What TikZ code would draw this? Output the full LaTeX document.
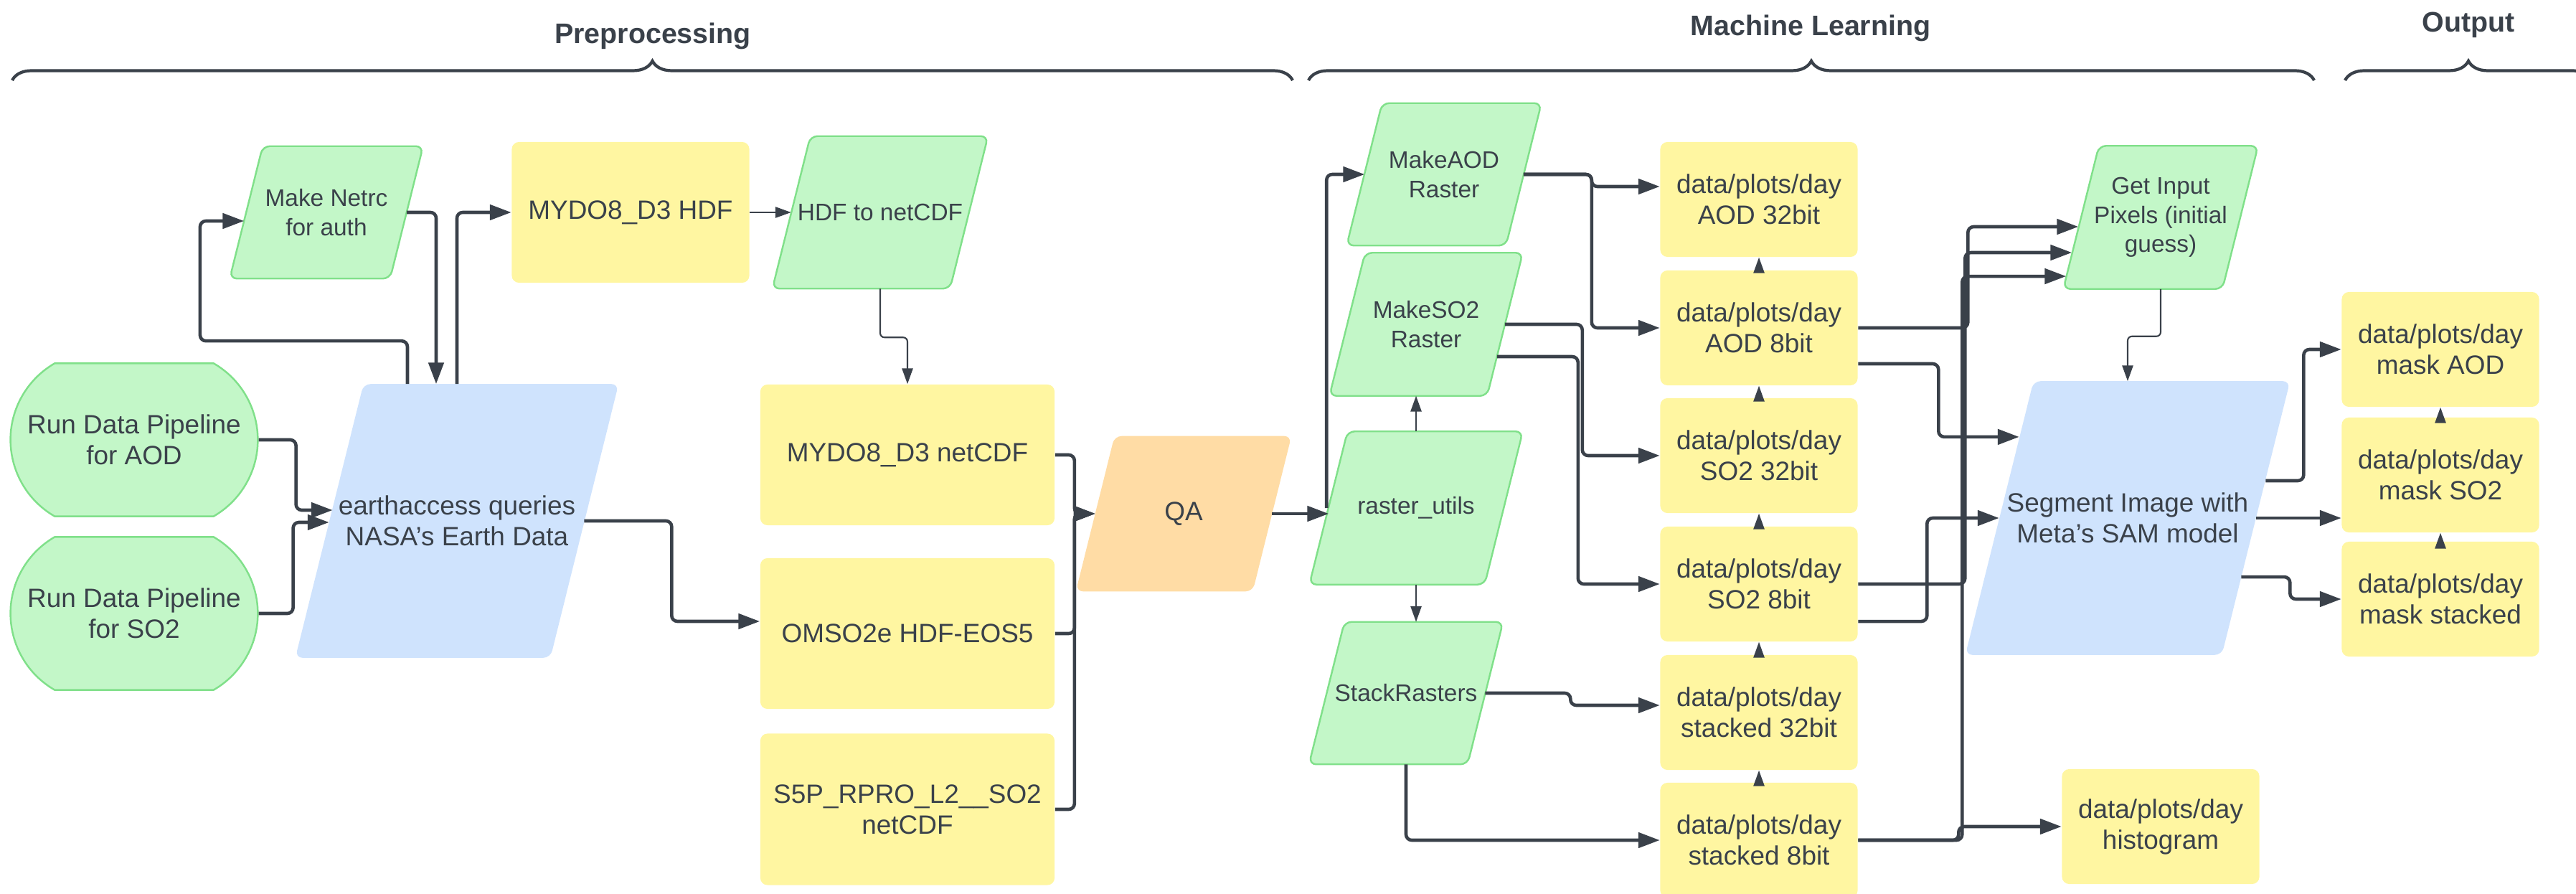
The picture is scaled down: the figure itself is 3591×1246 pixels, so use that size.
\documentclass[tikz,border=0pt]{standalone}
\usepackage{fontspec}
\setmainfont{Liberation Sans}
\usetikzlibrary{positioning,arrows.meta,calc,shapes.misc,decorations.pathreplacing,backgrounds}
\definecolor{pgreen}{HTML}{C3F7C8}
\definecolor{pgreenline}{HTML}{80E08A}
\definecolor{pyellow}{HTML}{FFF6A1}
\definecolor{pblue}{HTML}{CFE3FD}
\definecolor{porange}{HTML}{FFDCA5}
\definecolor{pink}{HTML}{3A414A}

\begin{document}
\begin{tikzpicture}[x=0.01cm, y=-0.01cm,
  every node/.style={text=pink, align=center},
  proc/.style={rectangle, inner sep=1pt, font=\fontsize{9.5}{11.5}\selectfont},
  query/.style={rectangle, inner sep=1pt, font=\fontsize{10.5}{12.2}\selectfont},
  procshape/.style={fill=pgreen, draw=pgreenline, line width=0.7pt, rounded corners=0.1cm},
  queryshape/.style={fill=pblue, rounded corners=0.1cm},
  checkshape/.style={fill=porange, rounded corners=0.1cm},
  term/.style={rounded rectangle, rounded rectangle arc length=120, fill=pgreen, draw=pgreenline, line width=0.7pt, minimum width=3.68cm, minimum height=2.13cm, font=\fontsize{10.5}{12.2}\selectfont},
  file/.style={rectangle, fill=pyellow, rounded corners=0.1cm, minimum width=2.75cm, minimum height=1.6cm, font=\fontsize{10.5}{12.2}\selectfont},
  head/.style={font=\bfseries\fontsize{11.2}{13}\selectfont},
  brace/.style={decorate, decoration={brace, amplitude=0.27cm}, draw=pink, line width=1.2pt},
  link/.style={draw=pink, line width=1.3pt, rounded corners=0.08cm, -{Triangle[length=8.5pt, width=6pt]}},
  tlink/.style={draw=pink, line width=0.6pt, rounded corners=0.06cm, -{Triangle[length=6.2pt, width=4.3pt]}}]
 \useasboundingbox (0,0) rectangle (3591,1246);
 \draw[brace] (17,112) -- (1802,112);
 \draw[brace] (1824,112) -- (3226,112);
 \draw[brace] (3269,112) -- (3613,112);
 \node[head] (pre) at (910,50) {Preprocessing};
 \node[head] (ml) at (2524,39) {Machine Learning};
 \node[head] (out) at (3441,35) {Output};
 \node[term] (runaod) at (187,613) {Run Data Pipeline\\for AOD};
 \node[term] (runso2) at (187,855) {Run Data Pipeline\\for SO2};
 \node[query, minimum width=4.49cm, minimum height=3.8cm] (earth) at (637,726) {earthaccess queries\\NASA's Earth Data};
 \node[proc, minimum width=2.68cm, minimum height=1.83cm] (netrc) at (455,296) {Make Netrc\\for auth};
 \node[file, minimum width=3.31cm, minimum height=1.96cm] (mydhdf) at (879,296) {MYDO8\_D3 HDF};
 \node[proc, minimum width=2.99cm, minimum height=2.11cm] (hdf2nc) at (1227,296) {HDF to netCDF};
 \node[file, minimum width=4.1cm, minimum height=1.96cm] (mydnc) at (1265,634) {MYDO8\_D3 netCDF};
 \node[file, minimum width=4.1cm, minimum height=2.1cm] (omso2) at (1265,883) {OMSO2e HDF-EOS5};
 \node[file, minimum width=4.1cm, minimum height=2.11cm] (s5p) at (1265,1128) {S5P\_RPRO\_L2\_\_SO2\\netCDF};
 \node[query, minimum width=2.99cm, minimum height=2.15cm] (qa) at (1650,716) {QA};
 \node[proc, minimum width=2.96cm, minimum height=2.12cm] (rutils) at (1974,708) {raster\_utils};
 \node[proc, minimum width=2.7cm, minimum height=1.97cm] (makeaod) at (2013,243) {MakeAOD\\Raster};
 \node[proc, minimum width=2.68cm, minimum height=1.98cm] (makeso2) at (1988,452) {MakeSO2\\Raster};
 \node[proc, minimum width=2.69cm, minimum height=1.97cm] (stackr) at (1960,966) {StackRasters};
 \foreach \n/\y/\t in {aod32/278/AOD 32bit, aod8/457/AOD 8bit, so232/635/SO2 32bit, so28/814/SO2 8bit, st32/993/stacked 32bit, st8/1171/stacked 8bit}
  \node[file] (\n) at (2452,\y) {data/plots/day\\\t};
 \node[proc, minimum width=2.7cm, minimum height=1.98cm] (getin) at (3012,303) {Get Input\\Pixels (initial\\guess)};
 \node[query, minimum width=4.51cm, minimum height=3.8cm] (segment) at (2966,722) {Segment Image with\\Meta's SAM model};
 \node[file] (hist) at (3012,1152) {data/plots/day\\histogram};
 \foreach \n/\y/\t in {maskaod/487/mask AOD, maskso2/662/mask SO2, maskst/835/mask stacked}
  \node[file] (\n) at (3402,\y) {data/plots/day\\\t};
 \begin{scope}[on background layer]
  \foreach \q/\s in {earth/queryshape, segment/queryshape, qa/checkshape, netrc/procshape, hdf2nc/procshape, rutils/procshape, makeaod/procshape, makeso2/procshape, stackr/procshape, getin/procshape}
   \path[\s] let \p1=(\q.north west), \p2=(\q.south east), \n1={0.249*(\y1-\y2)} in
    (\x1+1pt*\n1,\y1) -- (\x2,\y1) -- (\x2-1pt*\n1,\y2) -- (\x1,\y2) -- cycle;
 \end{scope}
 \draw[link] (runaod.east) -- ++(52,0) |- ([xshift=0.52cm,yshift=0.15cm]earth.west);
 \draw[link] (runso2.east) -- ++(48,0) |- ([xshift=0.47cm,yshift=-0.02cm]earth.west);
 \draw[link] ([xshift=-0.69cm]earth.north) |- ++(-289,-60) |- ([xshift=0.2cm,yshift=-0.12cm]netrc.west);
 \draw[link] ([xshift=-0.23cm]netrc.east) -| ([xshift=-0.29cm]earth.north);
 \draw[link] (earth.north) |- (mydhdf.west);
 \draw[link] ([xshift=-0.48cm]earth.east) -- ++(122,0) |- ([yshift=0.17cm]omso2.west);
 \draw[tlink] (mydhdf.east) -- ([xshift=0.26cm]hdf2nc.west);
 \draw[tlink] (hdf2nc.south) -- ++(0,68) -| (mydnc.north);
 \foreach \f in {mydnc,omso2,s5p} \draw[link] (\f.east) -- ++(27,0) |- ([xshift=0.27cm]qa.west);
 \draw[link] ([xshift=-0.27cm]qa.east) -- ++(79,0);
 \draw[link] ([xshift=0.24cm]rutils.west) |- ([xshift=0.25cm]makeaod.west);
 \draw[tlink] (rutils.north) -- (rutils.north |- makeso2.south);
 \draw[tlink] (rutils.south) -- (rutils.south |- stackr.north);
 \draw[link] ([xshift=-0.25cm]makeaod.east) -- ++(95,0) |- ([yshift=0.18cm]aod32.west);
 \draw[link] ([xshift=-0.25cm]makeaod.east) -- ++(95,0) |- (aod8.west);
 \draw[link] ([xshift=-0.25cm]makeso2.east) -- ++(108,0) |- (so232.west);
 \draw[link] ([xshift=-0.36cm,yshift=-0.45cm]makeso2.east) -- ++(113,0) |- (so28.west);
 \draw[link] ([xshift=-0.25cm]stackr.east) -- ++(119,0) |- ([yshift=0.1cm]st32.west);
 \draw[link] (stackr.south) |- (st8.west);
 \foreach \a/\b in {aod8/aod32,so232/aod8,so28/so232,st32/so28,st8/st32,maskso2/maskaod,maskst/maskso2}
  \draw[tlink] (\a) -- (\b);
 \draw[link] (aod8.east) -- ++(153,0) |- ([xshift=0.21cm,yshift=-0.13cm]getin.west);
 \draw[link] (so28.east) -- ++(149,0) |- ([xshift=0.12cm,yshift=-0.49cm]getin.west);
 \draw[link] (st8.east) -- ++(145,0) |- ([xshift=0.04cm,yshift=-0.82cm]getin.west);
 \draw[link] (st8.east) -- ++(140,0) |- (hist.west);
 \draw[link] ([yshift=-0.5cm]aod8.east) -- ++(112,0) |- ([xshift=0.75cm,yshift=1.13cm]segment.west);
 \draw[link] ([yshift=-0.52cm]so28.east) -- ++(96,0) |- ([xshift=0.47cm]segment.west);
 \draw[tlink] (getin.south) -- ++(0,66) -| (segment.north);
 \draw[link] ([xshift=-0.34cm,yshift=0.52cm]segment.east) -- ++(53,0) |- (maskaod.west);
 \draw[link] ([xshift=-0.47cm]segment.east) -- (segment.east -| maskso2.west);
 \draw[link] ([xshift=-0.68cm,yshift=-0.82cm]segment.east) -- ++(68,0) |- (maskst.west);
\end{tikzpicture}
\end{document}
